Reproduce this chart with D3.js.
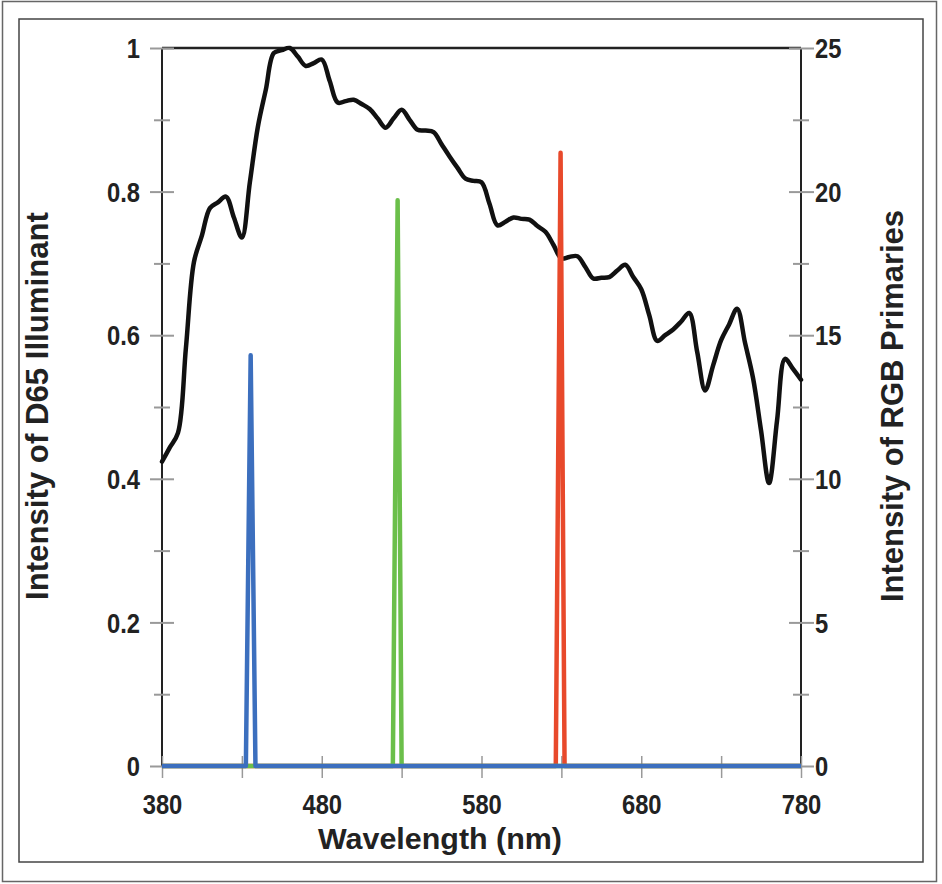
<!DOCTYPE html>
<html>
<head>
<meta charset="utf-8">
<script src="https://cdn.jsdelivr.net/npm/d3@7"></script>
<style>
  html, body { margin: 0; padding: 0; background: #fff; }
  svg { display: block; }
  text { font-family: "Liberation Sans", Arial, Helvetica, sans-serif; font-weight: bold; fill: #222; }
</style>
</head>
<body>
<svg id="chart" width="942" height="884"></svg>
<script>
// ---- data ----
const wavelengths = [380,385,390,395,400,405,410,415,420,425,430,435,440,445,450,455,460,465,470,475,480,485,490,495,500,505,510,515,520,525,530,535,540,545,550,555,560,565,570,575,580,585,590,595,600,605,610,615,620,625,630,635,640,645,650,655,660,665,670,675,680,685,690,695,700,705,710,715,720,725,730,735,740,745,750,755,760,765,770,775,780];
const d65 = [0.424,0.444,0.464,0.583,0.702,0.739,0.777,0.785,0.793,0.764,0.736,0.813,0.890,0.942,0.993,0.997,1.000,0.988,0.975,0.979,0.984,0.954,0.924,0.926,0.928,0.922,0.915,0.902,0.889,0.902,0.914,0.900,0.886,0.885,0.883,0.866,0.849,0.833,0.818,0.815,0.813,0.783,0.753,0.758,0.764,0.762,0.761,0.752,0.744,0.726,0.707,0.709,0.710,0.695,0.679,0.680,0.681,0.690,0.698,0.681,0.664,0.628,0.592,0.600,0.608,0.619,0.631,0.577,0.523,0.558,0.593,0.615,0.637,0.589,0.540,0.467,0.394,0.481,0.567,0.553,0.538];

const redWl   = [380, 626.5, 629.5, 632, 780];
const redVal  = [0, 0, 21.35, 0, 0];
const greenWl  = [380, 524.5, 527.5, 530, 780];
const greenVal = [0, 0, 19.7, 0, 0];
const blueWl   = [380, 432.5, 435.5, 438.5, 780];
const blueVal  = [0, 0, 14.3, 0, 0];

const xTickValues = [380,430,480,530,580,630,680,730,780];
const xTickLabels = [380,480,580,680,780];
const leftMajor = [0,0.2,0.4,0.6,0.8,1];
const leftMinor = [0.1,0.3,0.5,0.7,0.9];
const rightMajor = [0,5,10,15,20,25];
const rightMinor = [2.5,7.5,12.5,17.5,22.5];

const xTitle = "Wavelength (nm)";
const leftTitle = "Intensity of D65 Illuminant";
const rightTitle = "Intensity of RGB Primaries";

// ---- layout ----
const svg = d3.select("#chart");
const L = 162, R = 801, T = 48, B = 766;
const SX = 0.88;          // horizontal condensing of the tick-label font
const tickFont = 27;

const x = d3.scaleLinear().domain([380, 780]).range([L, R]);
const yL = d3.scaleLinear().domain([0, 1]).range([B, T]);
const yR = d3.scaleLinear().domain([0, 25]).range([B, T]);

// frames
svg.append("rect").attr("x", 2.5).attr("y", 1.5).attr("width", 934).attr("height", 880)
  .attr("fill", "none").attr("stroke", "#666").attr("stroke-width", 1.5);
svg.append("rect").attr("x", 19).attr("y", 19).attr("width", 904).attr("height", 843)
  .attr("fill", "none").attr("stroke", "#444").attr("stroke-width", 1.5);

// axis lines (left, right, top)
svg.append("line").attr("x1", L).attr("x2", L).attr("y1", T).attr("y2", B).attr("stroke", "#222").attr("stroke-width", 2);
svg.append("line").attr("x1", R).attr("x2", R).attr("y1", T).attr("y2", B).attr("stroke", "#222").attr("stroke-width", 2);
svg.append("line").attr("x1", L).attr("x2", R).attr("y1", T).attr("y2", T).attr("stroke", "#222").attr("stroke-width", 2.5);

const tickColor = "#999";

// left axis
const gL = svg.append("g").attr("transform", `translate(${L},0)`)
  .call(d3.axisLeft(yL).tickValues(leftMajor.concat(leftMinor)).tickFormat(d => leftMajor.includes(d) ? d3.format("")(d) : "").tickSizeOuter(0));
gL.select(".domain").remove();
gL.selectAll(".tick line").attr("stroke", tickColor).attr("stroke-width", 2)
  .attr("x1", d => leftMajor.includes(d) ? -12 : -8).attr("x2", d => leftMajor.includes(d) ? 12 : 8);
gL.selectAll(".tick text").attr("transform", `scale(${SX},1)`).attr("x", -22 / SX)
  .attr("font-size", tickFont).attr("font-family", null).attr("fill", "#222").attr("dy", "0.36em");

// right axis
const gR = svg.append("g").attr("transform", `translate(${R},0)`)
  .call(d3.axisRight(yR).tickValues(rightMajor.concat(rightMinor)).tickFormat(d => rightMajor.includes(d) ? d3.format("")(d) : "").tickSizeOuter(0));
gR.select(".domain").remove();
gR.selectAll(".tick line").attr("stroke", tickColor).attr("stroke-width", 2)
  .attr("x1", d => rightMajor.includes(d) ? -12 : -8).attr("x2", d => rightMajor.includes(d) ? 13 : 8);
gR.selectAll(".tick text").attr("transform", `scale(${SX},1)`).attr("x", 14 / SX)
  .attr("font-size", tickFont).attr("font-family", null).attr("fill", "#222").attr("dy", "0.36em");

// bottom axis
const gB = svg.append("g").attr("transform", `translate(0,${B})`)
  .call(d3.axisBottom(x).tickValues(xTickValues).tickFormat(d => xTickLabels.includes(d) ? d : "").tickSizeOuter(0));
gB.select(".domain").remove();
gB.selectAll(".tick line").attr("stroke", tickColor).attr("stroke-width", 1.5).attr("y1", -10).attr("y2", 12);
gB.selectAll(".tick text").attr("transform", `scale(${SX},1)`).attr("y", 48).attr("dy", 0)
  .attr("font-size", tickFont).attr("font-family", null).attr("fill", "#222");

// D65 curve
const lineL = d3.line().x((d, i) => x(wavelengths[i])).y(d => yL(d)).curve(d3.curveCatmullRom.alpha(0.5));
svg.append("path").datum(d65).attr("d", lineL).attr("fill", "none").attr("stroke", "#111")
  .attr("stroke-width", 4.5).attr("stroke-linejoin", "round").attr("stroke-linecap", "round");

// RGB primaries
function drawPrimary(wl, val, color) {
  const ln = d3.line().x((d, i) => x(wl[i])).y(d => yR(d));
  svg.append("path").datum(val).attr("d", ln).attr("fill", "none").attr("stroke", color)
    .attr("stroke-width", 4.5).attr("stroke-linejoin", "round");
}
drawPrimary(redWl, redVal, "#e8492b");
drawPrimary(greenWl, greenVal, "#6bbf4a");
drawPrimary(blueWl, blueVal, "#3c6fbe");

// titles (condensed via textLength)
svg.append("text").attr("x", 440).attr("y", 849).attr("text-anchor", "middle")
  .attr("font-size", 30).attr("textLength", 244).attr("lengthAdjust", "spacingAndGlyphs").text(xTitle);
svg.append("text").attr("transform", `translate(48,406) rotate(-90)`).attr("text-anchor", "middle")
  .attr("font-size", 32).attr("textLength", 388).attr("lengthAdjust", "spacingAndGlyphs").text(leftTitle);
svg.append("text").attr("transform", `translate(903,406) rotate(-90)`).attr("text-anchor", "middle")
  .attr("font-size", 32).attr("textLength", 392).attr("lengthAdjust", "spacingAndGlyphs").text(rightTitle);
</script>
</body>
</html>
